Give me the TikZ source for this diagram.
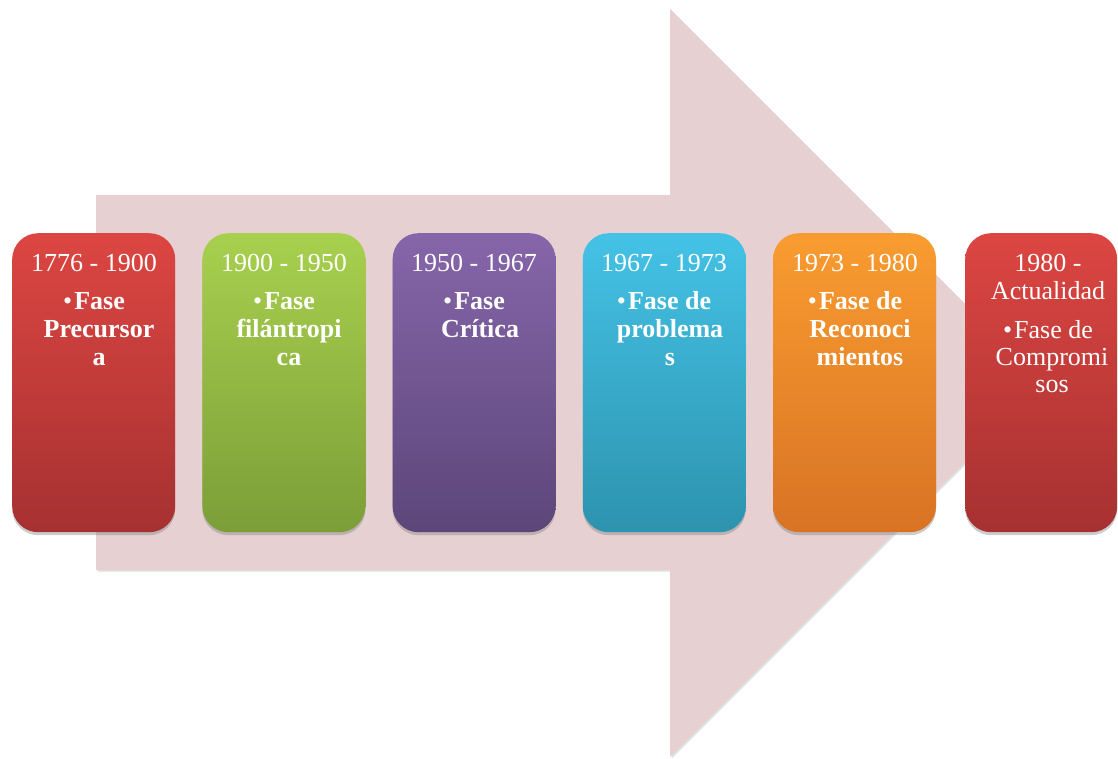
\documentclass[tikz,border=0pt]{standalone}
\usepackage{fontspec}
\setmainfont{Liberation Serif}
\usetikzlibrary{shadows}
\definecolor{arrowfill}{HTML}{E6D0D1}
\definecolor{redT}{HTML}{DC4642}\definecolor{redB}{HTML}{A63131}
\definecolor{grnT}{HTML}{A8D04E}\definecolor{grnB}{HTML}{7C9E38}
\definecolor{purT}{HTML}{8666AA}\definecolor{purB}{HTML}{5C4679}
\definecolor{cyaT}{HTML}{44C2E6}\definecolor{cyaB}{HTML}{2D93AE}
\definecolor{oraT}{HTML}{F99C30}\definecolor{oraB}{HTML}{D87324}
\tikzset{
  phase/.style={rounded corners=26pt, minimum width=163pt, minimum height=299pt,
     inner sep=0pt, anchor=north west,
     drop shadow={opacity=0.4, shadow xshift=0pt, shadow yshift=-3pt}},
  lbl/.style={anchor=base, text=white, inner sep=0pt, font=\fontsize{26}{28}\selectfont},
  blbl/.style={lbl, font=\fontsize{26}{28}\selectfont\bfseries},
}
\newcommand{\bul}{{\normalfont •}\hspace{2pt}}
\begin{document}
\begin{tikzpicture}[x=1pt,y=-1pt]
\useasboundingbox (0,0) rectangle (1118,759);
% big arrow
\fill[arrowfill, drop shadow={opacity=0.25, shadow xshift=1.5pt, shadow yshift=-1.5pt}]
  (96,195) -- (670,195) -- (670,9) -- (1044,383) -- (670,757) -- (670,570) -- (96,570) -- cycle;
% boxes
\node[phase, top color=redT, bottom color=redB] (b1) at (12,233) {};
\node[phase, top color=grnT, bottom color=grnB] (b2) at (202.2,233) {};
\node[phase, top color=purT, bottom color=purB] (b3) at (392.4,233) {};
\node[phase, top color=cyaT, bottom color=cyaB] (b4) at (582.6,233) {};
\node[phase, top color=oraT, bottom color=oraB] (b5) at (772.8,233) {};
\node[phase, top color=redT, bottom color=redB, minimum width=152pt] (b6) at (965,233) {};
% texts box 1
\node[lbl] (t1a) at (94,272) {1776 - 1900};
\node[blbl] (t1b) at (94,309) {\bul Fase};
\node[blbl] (t1c) at (99,337) {Precursor};
\node[blbl] (t1d) at (99,365) {a};
% box 2
\node[lbl] (t2a) at (284,272) {1900 - 1950};
\node[blbl] (t2b) at (284,309) {\bul Fase};
\node[blbl] (t2c) at (289,337) {filántropi};
\node[blbl] (t2d) at (289,365) {ca};
% box 3
\node[lbl] (t3a) at (474,272) {1950 - 1967};
\node[blbl] (t3b) at (474,309) {\bul Fase};
\node[blbl] (t3c) at (480,337) {Crítica};
% box 4
\node[lbl] (t4a) at (664,272) {1967 - 1973};
\node[blbl] (t4b) at (664,309) {\bul Fase de};
\node[blbl] (t4c) at (670,337) {problema};
\node[blbl] (t4d) at (670,365) {s};
% box 5
\node[lbl] (t5a) at (855,272) {1973 - 1980};
\node[blbl] (t5b) at (855,309) {\bul Fase de};
\node[blbl] (t5c) at (860,337) {Reconoci};
\node[blbl] (t5d) at (860,365) {mientos};
% box 6
\node[lbl] (t6a) at (1048,272) {1980 -};
\node[lbl] (t6b) at (1048,299) {Actualidad};
\node[lbl] (t6c) at (1048,338) {\bul Fase de};
\node[lbl] (t6d) at (1052,365) {Compromi};
\node[lbl] (t6e) at (1052,392) {sos};
\end{tikzpicture}
\end{document}
